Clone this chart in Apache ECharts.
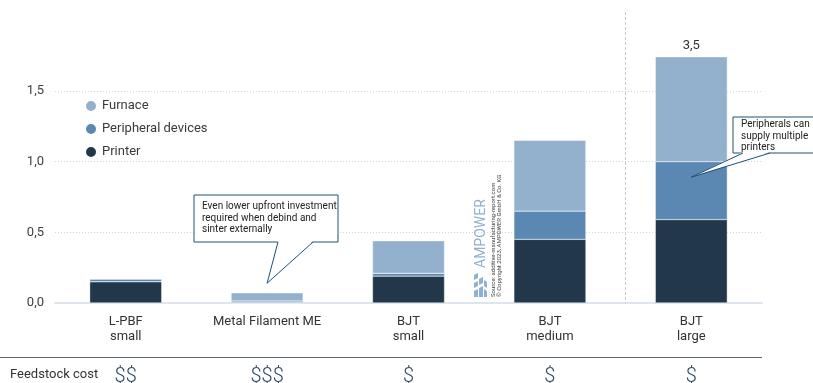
<!DOCTYPE html>
<html>
<head>
<meta charset="utf-8">
<script src="https://cdn.jsdelivr.net/npm/echarts@6/dist/echarts.min.js"></script>
<style>
  html, body { margin: 0; padding: 0; background: #fff; }
  #chart { width: 813px; height: 383px; }
</style>
</head>
<body>
<div id="chart"></div>
<script>
// Upfront investment per machine class, split into printer / peripherals / furnace
const categories = ['L-PBF\nsmall', 'Metal Filament ME', 'BJT\nsmall', 'BJT\nmedium', 'BJT\nlarge'];
const printer    = [0.15, 0.002, 0.19, 0.45, 0.59];
const peripheral = [0.02, 0.012, 0.02, 0.20, 0.41];
const furnace    = [0.00, 0.058, 0.23, 0.50, 2.50];
const feedstockCost = ['$$', '$$$', '$', '$', '$'];
const yTicks = [0, 0.5, 1.0, 1.5];
// the axis is cut here; taller stacks are clipped and labelled with their total
const yCut = 1.74;

const colors = { furnace: '#93b0cd', peripheral: '#5b88b2', printer: '#23374b' };
const fmt = v => v.toFixed(1).replace('.', ',');
const totals = categories.map((_, i) => printer[i] + peripheral[i] + furnace[i]);

const chart = echarts.init(document.getElementById('chart'), null, { renderer: 'canvas' });

const barBase = {
  type: 'bar', stack: 'cost', barWidth: 72, xAxisIndex: 0, yAxisIndex: 0,
  clip: true, emphasis: { disabled: true }
};

chart.setOption({
  animation: false,
  textStyle: { fontFamily: 'Roboto, sans-serif' },
  grid: { left: 55, right: 51, top: 57, bottom: 80, outerBoundsMode: 'none', containLabel: false },
  legend: {
    orient: 'vertical', left: 79, top: 94, itemGap: 9,
    icon: 'circle', itemWidth: 12, itemHeight: 12,
    textStyle: { fontSize: 13, color: '#3a3a3a' },
    data: ['Furnace', 'Peripheral devices', 'Printer']
  },
  xAxis: [
    {
      type: 'category', data: categories,
      axisLine: { lineStyle: { color: '#dfe5ec', width: 2 } },
      axisTick: { show: false },
      axisLabel: { fontSize: 13, color: '#333', lineHeight: 15, margin: 11 }
    },
    {
      type: 'category', data: feedstockCost, position: 'bottom', offset: 56,
      axisLine: { show: false }, axisTick: { show: false },
      axisLabel: { fontSize: 20, color: '#2c4a67', margin: 8, fontWeight: 300 }
    }
  ],
  yAxis: {
    type: 'value', min: yTicks[0], max: yCut, interval: yTicks[1] - yTicks[0],
    axisLine: { show: false }, axisTick: { show: false },
    axisLabel: { fontSize: 13, color: '#404040', margin: 11, showMaxLabel: false,
                 formatter: v => fmt(v) },
    splitLine: { showMaxLine: false, lineStyle: { color: '#cfd6de', type: [1, 2], width: 1 } }
  },
  series: [
    Object.assign({}, barBase, {
      name: 'Printer', data: printer,
      itemStyle: { color: colors.printer, borderColor: '#fff', borderWidth: 0.4 }
    }),
    Object.assign({}, barBase, {
      name: 'Peripheral devices', data: peripheral,
      itemStyle: { color: colors.peripheral, borderColor: '#fff', borderWidth: 0.4 }
    }),
    Object.assign({}, barBase, {
      name: 'Furnace',
      data: furnace.map((v, i) => totals[i] > yCut
        ? { value: v, label: { show: true, position: 'top', distance: 5, fontSize: 13,
                               color: '#333', formatter: () => fmt(totals[i]) } }
        : v),
      itemStyle: { color: colors.furnace, borderColor: '#fff', borderWidth: 0.4 }
    })
  ]
});

// annotation overlays, anchored to the chart's own scales
const px = (cat, val) => chart.convertToPixel({ xAxisIndex: 0, yAxisIndex: 0 }, [cat, val]);
const c3 = px(3, 0), c4 = px(4, 0);
const sepX = Math.round((c3[0] + c4[0]) / 2) + 4.5;
const zeroY = c3[1];
const gridRight = 813 - 51;

function callout(box, lines, base, tip, textTop) {
  const bottom = box.y + box.h;
  return [
    { type: 'rect', shape: { x: box.x, y: box.y, width: box.w, height: box.h },
      style: { fill: '#fff', stroke: '#1e5075', lineWidth: 1 }, z: 20 },
    { type: 'polygon', shape: { points: [[base[0], bottom - 1], [base[1], bottom - 1], [tip[0], tip[1]]] },
      style: { fill: '#fff' }, z: 21 },
    { type: 'polyline', shape: { points: [[base[0], bottom], [tip[0], tip[1]], [base[1], bottom]] },
      style: { stroke: '#1e5075', lineWidth: 1, fill: null }, z: 22 },
    { type: 'text', x: box.x + 8, y: box.y + textTop, z: 23,
      style: { text: lines.join('\n'), fontSize: 10, lineHeight: 11.5, fill: '#222',
               fontFamily: 'Roboto, sans-serif' } }
  ];
}

const tipMF = px(1, 0.14);
const tipLarge = px(4, 0.89);

const wmColor = '#8fb0cf';
const wmX = 481, wmBottom = 297;

chart.setOption({
  graphic: [
    // separator between medium and large BJT
    { type: 'line', shape: { x1: sepX, y1: 12, x2: sepX, y2: zeroY },
      style: { stroke: '#c9c9c9', lineWidth: 1, lineDash: [3, 2] }, z: 1 },
    // feedstock row
    { type: 'line', shape: { x1: 0, y1: 357.5, x2: gridRight, y2: 357.5 },
      style: { stroke: '#5b6673', lineWidth: 1 } },
    { type: 'text', x: 10, y: 375,
      style: { text: 'Feedstock cost', fontSize: 13, fill: '#333', textVerticalAlign: 'middle',
               fontFamily: 'Roboto, sans-serif' } },
    // watermark
    { type: 'text', x: wmX, y: 268, rotation: Math.PI / 2,
      style: { text: 'AMPOWER', fontSize: 14, fill: wmColor, textVerticalAlign: 'middle',
               fontFamily: 'Roboto, sans-serif' } },
    { type: 'text', x: 493.5, y: wmBottom, rotation: Math.PI / 2,
      style: { text: 'Source: additive-manufacturing-report.com', fontSize: 6, fill: '#444',
               textVerticalAlign: 'middle', fontFamily: 'Roboto, sans-serif' } },
    { type: 'text', x: 499.5, y: wmBottom, rotation: Math.PI / 2,
      style: { text: '\u00a9 Copyright 2023, AMPOWER GmbH & Co. KG', fontSize: 6, fill: '#444',
               textVerticalAlign: 'middle', fontFamily: 'Roboto, sans-serif' } },
    { type: 'polygon', shape: { points: [[474, 297], [478, 297], [478, 289], [474, 291]] }, style: { fill: wmColor } },
    { type: 'polygon', shape: { points: [[479, 297], [483, 297], [483, 286], [479, 288]] }, style: { fill: wmColor } },
    { type: 'polygon', shape: { points: [[484, 297], [487, 297], [487, 291], [484, 289]] }, style: { fill: wmColor } },
    { type: 'polygon', shape: { points: [[474, 288], [478, 286], [478, 281], [474, 283]] }, style: { fill: wmColor } },
    { type: 'polygon', shape: { points: [[479, 285], [483, 283], [483, 277], [479, 279]] }, style: { fill: wmColor } },
    { type: 'polygon', shape: { points: [[484, 286], [487, 288], [487, 282], [484, 280]] }, style: { fill: wmColor } },
    { type: 'polygon', shape: { points: [[474, 280], [478, 278], [478, 273], [474, 275]] }, style: { fill: wmColor } }
  ]
    .concat(callout({ x: 194, y: 195, w: 144, h: 47 },
      ['Even lower upfront investment', 'required when debind and', 'sinter externally'],
      [278, 313], tipMF, 6))
    .concat(callout({ x: 733, y: 117, w: 95, h: 36 },
      ['Peripherals can', 'supply multiple', 'printers'],
      [743, 770], tipLarge, 2))
});
</script>
</body>
</html>
